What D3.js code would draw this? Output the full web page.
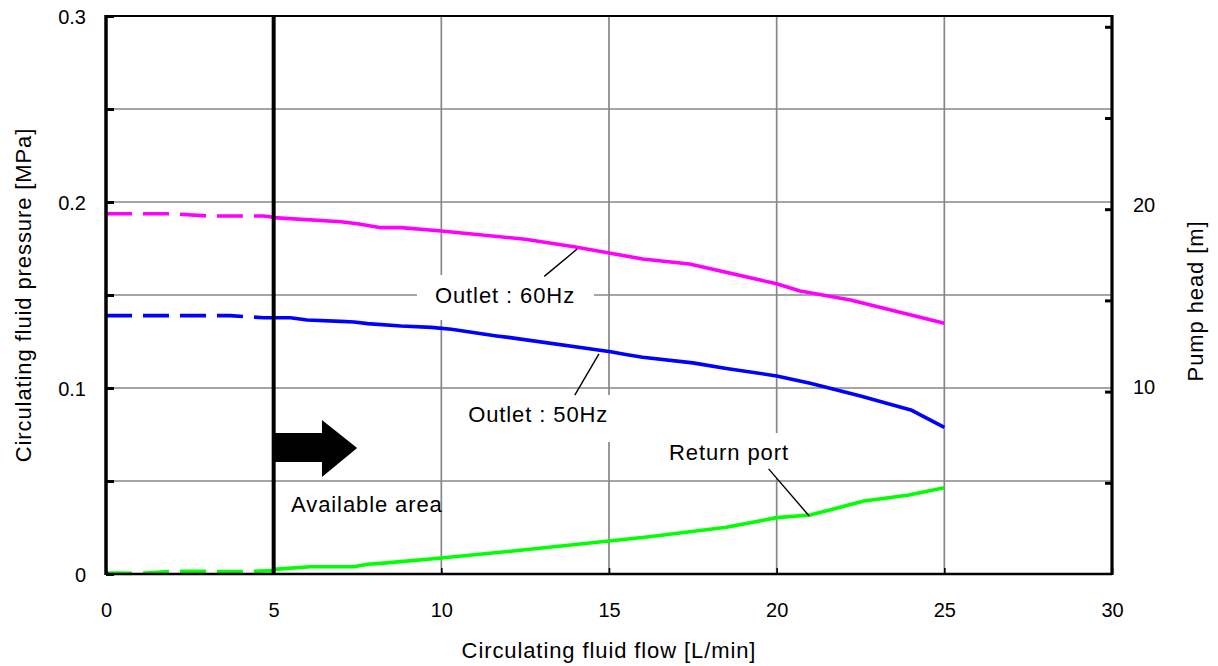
<!DOCTYPE html>
<html>
<head>
<meta charset="utf-8">
<script src="https://cdn.jsdelivr.net/npm/d3@7"></script>
<style>
  html, body { margin: 0; padding: 0; background: #fff; }
  svg { display: block; }
  text { font-family: "Liberation Sans", Arial, sans-serif; fill: #000; }
</style>
</head>
<body>
<svg id="chart" width="1218" height="666"></svg>
<script>
// ---- data ----
const xTicks = [0, 5, 10, 15, 20, 25, 30];
const yTicks = [0, 0.1, 0.2, 0.3];
const yMinorTicks = [0, 0.05, 0.1, 0.15, 0.2, 0.25, 0.3];
const headTicks = [5, 10, 15, 20, 25, 30];
const headLabels = [10, 20];

// Outlet 60Hz
const flow60Dash = [0, 2.0, 3.0, 4.7, 5];
const press60Dash = [0.1937, 0.1937, 0.1925, 0.1925, 0.1918];
const flow60 = [5, 7.0, 7.5, 8.2, 8.8, 10, 12.5, 14, 15, 16, 17.4, 20, 20.7, 22.2, 25];
const press60 = [0.1916, 0.1894, 0.1883, 0.1862, 0.1862, 0.1844, 0.180, 0.1758, 0.1726, 0.1694, 0.1667, 0.156, 0.1521, 0.1473, 0.1348];

// Outlet 50Hz
const flow50Dash = [0, 3.7, 4.7, 5];
const press50Dash = [0.1389, 0.1389, 0.1378, 0.1378];
const flow50 = [5, 5.5, 6.0, 7.0, 7.4, 7.8, 8.8, 9.7, 10.3, 11.65, 12.0, 15.05, 15.5, 16.0, 17.5, 18.5, 20, 21, 22.5, 24, 25];
const press50 = [0.1378, 0.1378, 0.1366, 0.1358, 0.1355, 0.1346, 0.1333, 0.1326, 0.1316, 0.128, 0.1272, 0.1195, 0.1180, 0.1165, 0.1135, 0.1105, 0.1065, 0.1025, 0.0957, 0.0882, 0.0788];

// Return port
const flowRetDash = [0, 1, 2, 4, 5];
const pressRetDash = [0.0005, 0.0003, 0.0015, 0.0013, 0.0018];
const flowRet = [5, 6.1, 7.4, 7.8, 8.2, 10, 12.5, 15, 16.2, 18.5, 20, 21, 22.6, 23.9, 25];
const pressRet = [0.0025, 0.0039, 0.0039, 0.0052, 0.0057, 0.0086, 0.013, 0.0177, 0.020, 0.0251, 0.0303, 0.0317, 0.0392, 0.0423, 0.0464];

// ---- layout ----
const svg = d3.select("#chart");
const L = 106, R = 1112, T = 16, B = 574;
const x = d3.scaleLinear().domain([0, 30]).range([L, R]);
const y = d3.scaleLinear().domain([0, 0.3]).range([B, T]);
const headMax = 0.3 / 0.00980665;
const y2 = d3.scaleLinear().domain([0, headMax]).range([B, T]);
const FONT = '"Liberation Sans", Arial, sans-serif';

const grid = svg.append("g");
grid.selectAll(".hg").data(yMinorTicks.filter(v => v > 0 && v < 0.3)).enter().append("line")
  .attr("x1", L).attr("x2", R).attr("y1", d => y(d)).attr("y2", d => y(d))
  .attr("stroke", "#878787").attr("stroke-width", 1.7);
grid.selectAll(".vg").data(xTicks.filter(v => v > 5 && v < 30)).enter().append("line")
  .attr("y1", T).attr("y2", B).attr("x1", d => x(d)).attr("x2", d => x(d))
  .attr("stroke", "#878787").attr("stroke-width", 1.7);

// white label boxes (cover gridlines), in data units
const labelBoxes = [
  [x.invert(417), y.invert(275), x.invert(594), y.invert(320)],
  [x.invert(452), y.invert(395), x.invert(628), y.invert(442)],
  [x.invert(652), y.invert(433), x.invert(822), y.invert(479)],
];
labelBoxes.forEach(b => {
  svg.append("rect").attr("x", x(b[0])).attr("y", y(b[1]))
    .attr("width", x(b[2]) - x(b[0])).attr("height", y(b[3]) - y(b[1])).attr("fill", "#fff");
});

// ---- series ----
const line = d3.line().x(d => x(d[0])).y(d => y(d[1]));
function drawSeries(xs, ys, color, dashed) {
  svg.append("path")
    .attr("d", line(xs.map((v, i) => [v, ys[i]])))
    .attr("fill", "none").attr("stroke", color).attr("stroke-width", 3.6)
    .attr("stroke-linejoin", "round")
    .attr("stroke-dasharray", dashed ? "26,11" : null);
}
drawSeries(flow60Dash, press60Dash, "#ff00ff", true);
drawSeries(flow60, press60, "#ff00ff", false);
drawSeries(flow50Dash, press50Dash, "#0000ff", true);
drawSeries(flow50, press50, "#0000ff", false);
drawSeries(flowRetDash, pressRetDash, "#00ff00", true);
drawSeries(flowRet, pressRet, "#00ff00", false);

// ---- frame ----
svg.append("line").attr("x1", L).attr("x2", R).attr("y1", T).attr("y2", T).attr("stroke", "#000").attr("stroke-width", 2);
svg.append("line").attr("x1", L).attr("x2", R).attr("y1", B).attr("y2", B).attr("stroke", "#000").attr("stroke-width", 2.5);
svg.append("line").attr("x1", L).attr("x2", L).attr("y1", T - 1).attr("y2", B + 1).attr("stroke", "#000").attr("stroke-width", 3.5);
svg.append("line").attr("x1", R).attr("x2", R).attr("y1", T - 1).attr("y2", B + 1).attr("stroke", "#000").attr("stroke-width", 3.2);
svg.append("line").attr("x1", x(5)).attr("x2", x(5)).attr("y1", T).attr("y2", B).attr("stroke", "#000").attr("stroke-width", 4);

// ---- axes ----
const fs = 20;      // tick labels
const fsT = 22;     // titles and annotations
const ls = "0.9px";
// bottom axis
const xAxis = d3.axisBottom(x).tickValues(xTicks).tickSizeInner(-6).tickSizeOuter(0).tickPadding(34)
  .tickFormat(d3.format("d"));
const gx = svg.append("g").attr("transform", `translate(0,${B})`).call(xAxis);
gx.select(".domain").remove();
gx.selectAll(".tick line").attr("stroke", "#000").attr("stroke-width", 1.6);
gx.selectAll(".tick text").attr("font-size", fs).attr("font-family", FONT).attr("dy", 0).attr("y", 43);

// left axis
const yAxis = d3.axisLeft(y).tickValues(yMinorTicks).tickSizeInner(-8).tickSizeOuter(0).tickPadding(20)
  .tickFormat(d => yTicks.some(t => Math.abs(t - d) < 1e-9) ? (d === 0 ? "0" : d3.format(".1f")(d)) : "");
const gy = svg.append("g").attr("transform", `translate(${L},0)`).call(yAxis);
gy.select(".domain").remove();
gy.selectAll(".tick line").attr("stroke", "#000").attr("stroke-width", 3);
gy.selectAll(".tick text").attr("font-size", fs).attr("font-family", FONT)
  .attr("x", -20).attr("dy", "0.35em");

// right axis (pump head)
const y2Axis = d3.axisRight(y2).tickValues(headTicks).tickSizeInner(-7).tickSizeOuter(0).tickPadding(20)
  .tickFormat(d => headLabels.includes(d) ? String(d) : "");
const gy2 = svg.append("g").attr("transform", `translate(${R},0)`).call(y2Axis);
gy2.select(".domain").remove();
gy2.selectAll(".tick line").attr("stroke", "#000").attr("stroke-width", 3);
gy2.selectAll(".tick text").attr("font-size", fs).attr("font-family", FONT)
  .attr("x", 21).attr("dy", "0.1em");

// axis titles
svg.append("text").attr("x", (L + R) / 2).attr("y", 658).attr("text-anchor", "middle")
  .attr("font-size", fsT).attr("letter-spacing", ls).text("Circulating fluid flow [L/min]");
svg.append("text").attr("transform", `translate(31,${(T + B) / 2}) rotate(-90)`).attr("text-anchor", "middle")
  .attr("font-size", fsT).attr("letter-spacing", ls).text("Circulating fluid pressure [MPa]");
svg.append("text").attr("transform", `translate(1203,${(T + B) / 2 + 6}) rotate(-90)`).attr("text-anchor", "middle")
  .attr("font-size", fsT).attr("letter-spacing", ls).text("Pump head [m]");

// ---- annotations ----
const annotations = [
  {text: "Outlet : 60Hz", tx: 9.81, ty: 0.1457, lx1: 13.07, ly1: 0.1600, lx2: 14.05, ly2: 0.1747},
  {text: "Outlet : 50Hz", tx: 10.80, ty: 0.0819, lx1: 13.98, ly1: 0.0962, lx2: 14.70, ly2: 0.1183},
  {text: "Return port", tx: 16.79, ty: 0.0613, lx1: 19.76, ly1: 0.0565, lx2: 20.97, ly2: 0.0312},
];
annotations.forEach(a => {
  svg.append("line").attr("x1", x(a.lx1)).attr("y1", y(a.ly1)).attr("x2", x(a.lx2)).attr("y2", y(a.ly2))
    .attr("stroke", "#000").attr("stroke-width", 1.4);
  svg.append("text").attr("x", x(a.tx)).attr("y", y(a.ty)).attr("font-size", fsT).attr("letter-spacing", ls).text(a.text);
});

// available area arrow (data units)
const arrowPts = [[5, 0.0758], [6.44, 0.0758], [6.44, 0.0828], [7.49, 0.0677], [6.44, 0.0522], [6.44, 0.0602], [5, 0.0602]];
svg.append("path").attr("d", d3.line().x(d => x(d[0])).y(d => y(d[1]))(arrowPts) + "Z").attr("fill", "#000");
svg.append("text").attr("x", x(5.52)).attr("y", y(0.0334)).attr("font-size", fsT).attr("letter-spacing", ls).text("Available area");
</script>
</body>
</html>
